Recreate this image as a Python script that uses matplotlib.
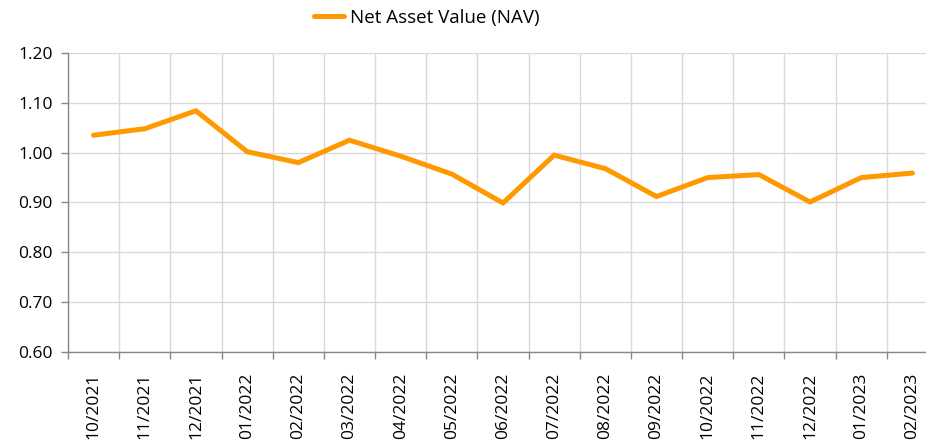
import matplotlib.pyplot as plt
import numpy as np

months = ["10/2021", "11/2021", "12/2021", "01/2022", "02/2022", "03/2022",
          "04/2022", "05/2022", "06/2022", "07/2022", "08/2022", "09/2022",
          "10/2022", "11/2022", "12/2022", "01/2023", "02/2023"]
nav = [1.035, 1.048, 1.084, 1.002, 0.980, 1.025, 0.993, 0.957, 0.899,
       0.995, 0.968, 0.912, 0.950, 0.956, 0.901, 0.950, 0.959]
y_ticks = [0.60, 0.70, 0.80, 0.90, 1.00, 1.10, 1.20]

plt.rcParams['font.family'] = ['Open Sans', 'DejaVu Sans']

fig = plt.figure(figsize=(9.26, 4.41), dpi=100)
ax = fig.add_axes([68 / 926, 1 - 352 / 441, 870 / 926, 299 / 441])

x = np.arange(len(months))
ax.plot(x, nav, color="#FF9900", linewidth=3.6, solid_capstyle="round",
        solid_joinstyle="miter", label="Net Asset Value (NAV)", zorder=3)

ax.set_xlim(-0.5, len(months) - 0.5)
ax.set_ylim(0.6, 1.2)

ax.set_xticks(x)
ax.set_xticklabels(months, rotation=90, fontsize=12.5)
ax.set_xticks(np.arange(len(months) + 1) - 0.5, minor=True)
ax.tick_params(axis="x", which="major", length=0, pad=15)
ax.tick_params(axis="x", which="minor", length=5, color="#888888", width=1)

ax.set_yticks(y_ticks)
ax.set_yticklabels([f"{v:.2f}" for v in y_ticks], fontsize=12.5)
ax.tick_params(axis="y", length=5, color="#888888", width=1, pad=6)

ax.grid(True, axis="y", color="#d9d9d9", linewidth=1)
ax.grid(True, axis="x", which="minor", color="#d9d9d9", linewidth=1)
ax.set_axisbelow(True)

for side in ["top", "right"]:
    ax.spines[side].set_visible(False)
for side in ["left", "bottom"]:
    ax.spines[side].set_color("#888888")
    ax.spines[side].set_linewidth(1)

fig.legend(loc="center", bbox_to_anchor=(427 / 926, 1 - 18 / 441),
           frameon=False, fontsize=13.5, handlelength=1.6, handletextpad=0.35)

fig.savefig("out.png", dpi=100)
